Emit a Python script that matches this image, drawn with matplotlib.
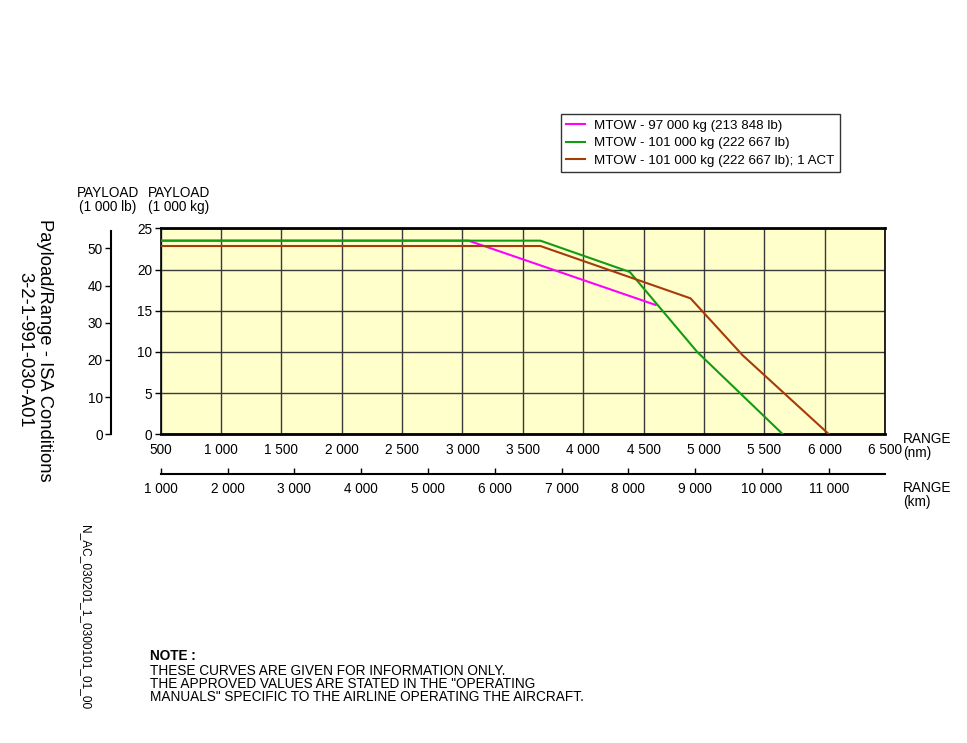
import matplotlib
matplotlib.use("Agg")
import matplotlib.pyplot as plt

plt.rcParams['font.family'] = ['Liberation Sans', 'DejaVu Sans']

# ---- data (range in nm, payload in 1000 kg) ----
mtow97_range = [500, 3050, 4600]
mtow97_payload = [23.5, 23.5, 15.7]

mtow101_range = [500, 3645, 4386, 4944, 5654]
mtow101_payload = [23.5, 23.5, 19.7, 10.0, 0.0]

mtow101act_range = [500, 3645, 4889, 5320, 6036]
mtow101act_payload = [22.85, 22.85, 16.5, 9.6, 0.0]

series_labels = ["MTOW - 97 000 kg (213 848 lb)",
                 "MTOW - 101 000 kg (222 667 lb)",
                 "MTOW - 101 000 kg (222 667 lb); 1 ACT"]
series_colors = ["#ff00ff", "#119c11", "#a83a08"]

nm_ticks = list(range(500, 7000, 500))
nm_ticklabels = ["500", "1 000", "1 500", "2 000", "2 500", "3 000", "3 500",
                 "4 000", "4 500", "5 000", "5 500", "6 000", "6 500"]
kg_ticks = [0, 5, 10, 15, 20, 25]
lb_ticks = [0, 10, 20, 30, 40, 50]
km_ticks = list(range(1000, 12000, 1000))
km_ticklabels = ["1 000", "2 000", "3 000", "4 000", "5 000", "6 000", "7 000",
                 "8 000", "9 000", "10 000", "11 000"]

W, H = 967, 743
fig = plt.figure(figsize=(W / 100, H / 100), dpi=100)

def fx(px):
    return px / W

def fy(py):
    return 1 - py / H

FS = 9.8

ax_l, ax_r, ax_t, ax_b = 160.7, 885, 228.3, 434.3
ax = fig.add_axes([fx(ax_l), fy(ax_b), fx(ax_r - ax_l), (ax_b - ax_t) / H])
ax.set_facecolor("#ffffcc")
ax.set_xlim(500, 6500)
ax.set_ylim(0, 25)
ax.set_xticks(nm_ticks)
ax.set_xticklabels(nm_ticklabels, fontsize=FS)
ax.set_yticks(kg_ticks)
ax.set_yticklabels([str(v) for v in kg_ticks], fontsize=FS)
ax.tick_params(axis='x', length=0, pad=6)
ax.tick_params(axis='y', length=4, width=1, pad=2, direction='out')
ax.grid(True, color="#3a3a3a", linewidth=1.0)
ax.set_axisbelow(True)
for s in ax.spines.values():
    s.set_color("black")
    s.set_linewidth(1.2)
ax.spines['top'].set_linewidth(2.0)
ax.spines['bottom'].set_linewidth(2.0)

lines = []
for xs, ys, c, lab in [(mtow97_range, mtow97_payload, series_colors[0], series_labels[0]),
                       (mtow101_range, mtow101_payload, series_colors[1], series_labels[1]),
                       (mtow101act_range, mtow101act_payload, series_colors[2], series_labels[2])]:
    ln, = ax.plot(xs, ys, color=c, linewidth=1.5, label=lab, zorder=3)
    lines.append(ln)

# lb axis
lb_top = 230.7
axlb = fig.add_axes([fx(111), fy(ax_b), 0.0001, (ax_b - lb_top) / H])
axlb.set_ylim(0, (ax_b - lb_top) / 3.72)
axlb.set_yticks(lb_ticks)
axlb.set_yticklabels([str(v) for v in lb_ticks], fontsize=FS)
axlb.set_xticks([])
for k in ['top', 'right', 'bottom']:
    axlb.spines[k].set_visible(False)
axlb.spines['left'].set_linewidth(1.5)
axlb.tick_params(axis='y', length=4, width=1, pad=2)
axlb.patch.set_visible(False)

# km axis
km_y = 474
axkm = fig.add_axes([fx(ax_l), fy(km_y), fx(ax_r - ax_l), 0.0001])
axkm.set_xlim(1000, 1000 + (ax_r - ax_l) / 66.8 * 1000)
axkm.set_xticks(km_ticks)
axkm.set_xticklabels(km_ticklabels, fontsize=FS)
axkm.set_yticks([])
for k in ['top', 'right', 'left']:
    axkm.spines[k].set_visible(False)
axkm.spines['bottom'].set_linewidth(1.5)
axkm.tick_params(axis='x', direction='in', length=4, width=1, pad=6)
axkm.patch.set_visible(False)

# texts
fig.text(fx(903), fy(446), "RANGE\n(nm)", fontsize=FS, ha='left', va='center', linespacing=0.95)
fig.text(fx(903), fy(495), "RANGE\n(km)", fontsize=FS, ha='left', va='center', linespacing=0.95)
fig.text(fx(108), fy(200), "PAYLOAD\n(1 000 lb)", fontsize=FS, ha='center', va='center', linespacing=0.95)
fig.text(fx(179), fy(200), "PAYLOAD\n(1 000 kg)", fontsize=FS, ha='center', va='center', linespacing=0.95)

fig.text(fx(35), fy(350), "Payload/Range - ISA Conditions\n3-2-1-991-030-A01", fontsize=13.2,
         rotation=270, ha='center', va='center', multialignment='center', linespacing=1.2)
fig.text(fx(85), fy(617), "N_AC_030201_1_0300101_01_00", fontsize=8.6,
         rotation=270, ha='center', va='center')

fig.text(fx(150), fy(656), "NOTE :", fontsize=FS, fontweight='bold', ha='left', va='center')
fig.text(fx(150), fy(684), "THESE CURVES ARE GIVEN FOR INFORMATION ONLY.\n"
         "THE APPROVED VALUES ARE STATED IN THE \"OPERATING\n"
         "MANUALS\" SPECIFIC TO THE AIRLINE OPERATING THE AIRCRAFT.",
         fontsize=FS, ha='left', va='center', linespacing=0.95)

leg = fig.legend(handles=lines, loc='upper left', bbox_to_anchor=(fx(561), fy(114)),
                 fontsize=9.6, frameon=True, fancybox=False, edgecolor='black',
                 handlelength=1.4, handletextpad=0.7, borderpad=0.4, labelspacing=0.4,
                 borderaxespad=0)
leg.get_frame().set_linewidth(1.0)

fig.savefig("out.png", dpi=100)
